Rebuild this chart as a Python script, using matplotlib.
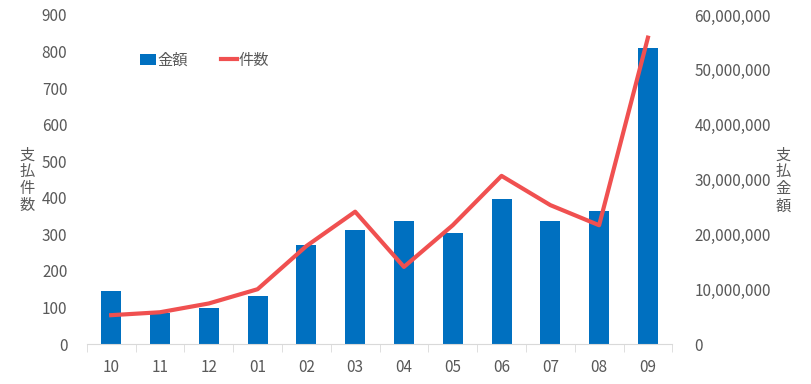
import numpy as np
import matplotlib.pyplot as plt
from matplotlib.ticker import FuncFormatter, FixedLocator

plt.rcParams['font.family'] = ['Noto Sans CJK JP', 'DejaVu Sans']

months = ['10', '11', '12', '01', '02', '03', '04', '05', '06', '07', '08', '09']
amount = [9670000, 5600000, 6600000, 8750000, 18050000, 20800000,
          22400000, 20200000, 26400000, 22400000, 24300000, 54000000]
count = [79, 87, 111, 150, 268, 362, 211, 325, 460, 380, 325, 838]

TXT = '#595959'
BAR = '#0070C0'
LINE = '#F05050'

fig = plt.figure(figsize=(8.11, 3.84), dpi=100)
ax = fig.add_axes([0.107, 0.104, 0.722, 0.857])
ax2 = ax.twinx()

x = np.arange(len(months))
b = ax2.bar(x, amount, width=0.41, color=BAR, label='金額', zorder=2)
ln, = ax.plot(x, count, color=LINE, lw=3, label='件数', zorder=3)
ax.set_zorder(ax2.get_zorder() + 1)
ax.patch.set_visible(False)

ax.set_xlim(-0.5, len(months) - 0.5)
ax.set_ylim(0, 900)
ax.set_yticks(range(0, 901, 100))
ax2.set_ylim(0, 60000000)
ax2.set_yticks(range(0, 60000001, 10000000))
ax2.yaxis.set_major_formatter(FuncFormatter(lambda v, p: f'{int(v):,}'))

ax.set_xticks(x)
ax.set_xticklabels(months)
ax.xaxis.set_minor_locator(FixedLocator(np.arange(-0.5, len(months), 1)))

for a in (ax, ax2):
    for s in a.spines.values():
        s.set_visible(False)
ax.spines['bottom'].set_visible(True)
ax.spines['bottom'].set_color('#D9D9D9')

ax.tick_params(axis='y', length=0, labelsize=11, labelcolor=TXT, pad=14)
ax2.tick_params(axis='y', length=0, labelsize=11, labelcolor=TXT, pad=16)
ax.tick_params(axis='x', which='major', length=0, labelsize=11, labelcolor=TXT, pad=11)
ax.tick_params(axis='x', which='minor', length=6, color='#D9D9D9')

fig.text(0.034, 0.53, '支\n払\n件\n数', ha='center', va='center', fontsize=11,
         color=TXT, linespacing=1.0)
fig.text(0.966, 0.53, '支\n払\n金\n額', ha='center', va='center', fontsize=11,
         color=TXT, linespacing=1.0)

ax.legend([b, ln], ['金額', '件数'], loc='upper left', bbox_to_anchor=(0.068, 0.93),
          ncol=2, frameon=False, fontsize=11, labelcolor=TXT,
          handlelength=1.0, handletextpad=0.1, columnspacing=2.2)

fig.savefig('out.png', dpi=100)
